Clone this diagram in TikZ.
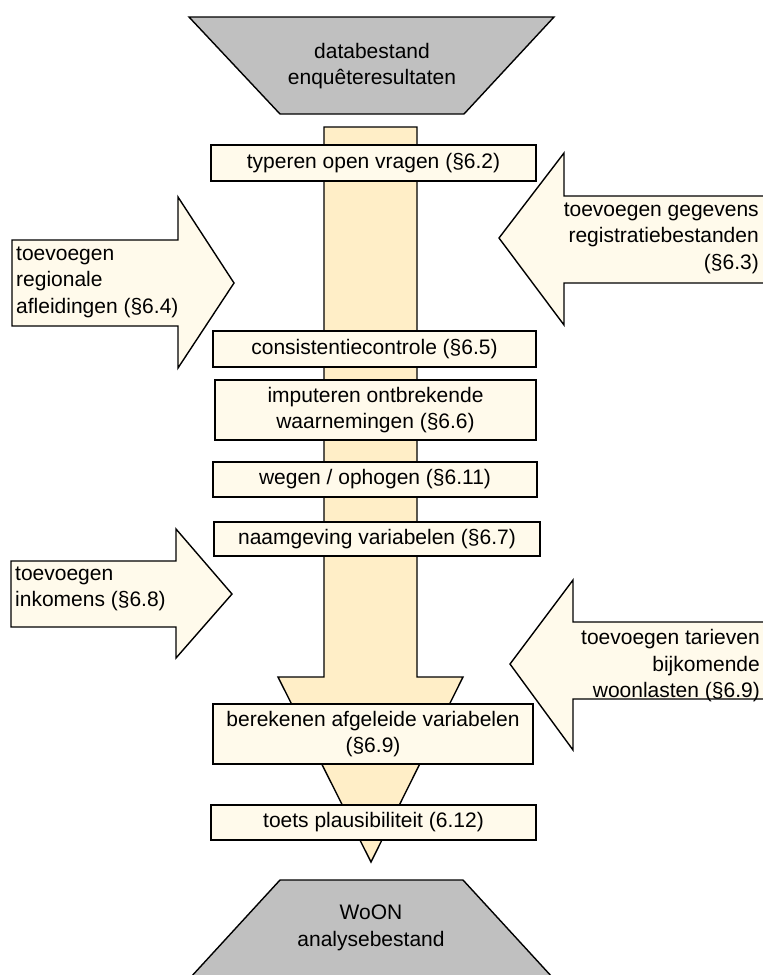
\documentclass[tikz,border=0pt]{standalone}
\usepackage{fontspec}
\setmainfont{Liberation Sans}
\definecolor{flowfill}{RGB}{255,238,199}
\definecolor{boxfill}{RGB}{255,250,235}
\definecolor{datafill}{RGB}{192,192,192}
\begin{document}
\begin{tikzpicture}[x=1pt,y=-1pt,
  txt/.style={font=\fontsize{21}{26.5}\selectfont, inner sep=0pt},
  shapeline/.style={draw=black, line width=1.4pt, line join=miter},
  stepbox/.style={shapeline, fill=boxfill, txt, align=center},
  sidearrow/.style={shapeline, fill=boxfill},
  datashape/.style={shapeline, fill=datafill}]
\useasboundingbox (0,0) rectangle (763,975);
\clip (0,0) rectangle (763,975);

% data sources
\draw[datashape] (189,17) -- (554,17) -- (464,114) -- (280,114) -- cycle;
\node[txt, align=center] (src) at (372,66) {databestand\\enquêteresultaten};

\draw[datashape] (280,880) -- (463,880) -- (564,990) -- (179,990) -- cycle;
\node[txt, align=center] (dst) at (371,928) {WoON\\analysebestand};

% main flow arrow
\draw[shapeline, fill=flowfill] (324,127) -- (417,127) -- (417,677) -- (463,677)
  -- (371,862) -- (278,677) -- (324,677) -- cycle;

% process steps
\node[stepbox, minimum width=325, minimum height=36] (s1) at (373.5,163) {typeren open vragen (§6.2)};
\node[stepbox, minimum width=323, minimum height=36] (s2) at (374.5,349) {consistentiecontrole (§6.5)};
\node[stepbox, minimum width=321, minimum height=60] (s3) at (375.5,410) {imputeren ontbrekende\\waarnemingen (§6.6)};
\node[stepbox, minimum width=324, minimum height=35] (s4) at (375,479.5) {wegen / ophogen (§6.11)};
\node[stepbox, minimum width=326, minimum height=34] (s5) at (377,539) {naamgeving variabelen (§6.7)};
\node[stepbox, minimum width=320, minimum height=60] (s6) at (373,734) {berekenen afgeleide variabelen\\(§6.9)};
\node[stepbox, minimum width=325, minimum height=35] (s7) at (373.5,822.5) {toets plausibiliteit (6.12)};

% side inputs
\draw[sidearrow] (12,240) -- (178,240) -- (178,197) -- (234,283) -- (178,368) -- (178,326) -- (12,326) -- cycle;
\node[txt, align=left, anchor=west] (in1) at (16,282) {toevoegen\\regionale\\afleidingen (§6.4)};

\draw[sidearrow] (775,196) -- (564,196) -- (564,153) -- (499,238) -- (564,325) -- (564,283) -- (775,283) -- cycle;
\node[txt, align=right, anchor=east] (in2) at (759,238) {toevoegen gegevens\\registratiebestanden\\(§6.3)};

\draw[sidearrow] (11,561) -- (176,561) -- (176,529) -- (232,594) -- (176,658) -- (176,627) -- (11,627) -- cycle;
\node[txt, align=left, anchor=west] (in3) at (15,589) {toevoegen\\inkomens (§6.8)};

\draw[sidearrow] (775,622) -- (573,622) -- (573,580) -- (510,664) -- (573,750) -- (573,699) -- (775,699) -- cycle;
\node[txt, align=right, anchor=east] (in4) at (760,666) {toevoegen tarieven\\bijkomende\\woonlasten (§6.9)};
\end{tikzpicture}
\end{document}
